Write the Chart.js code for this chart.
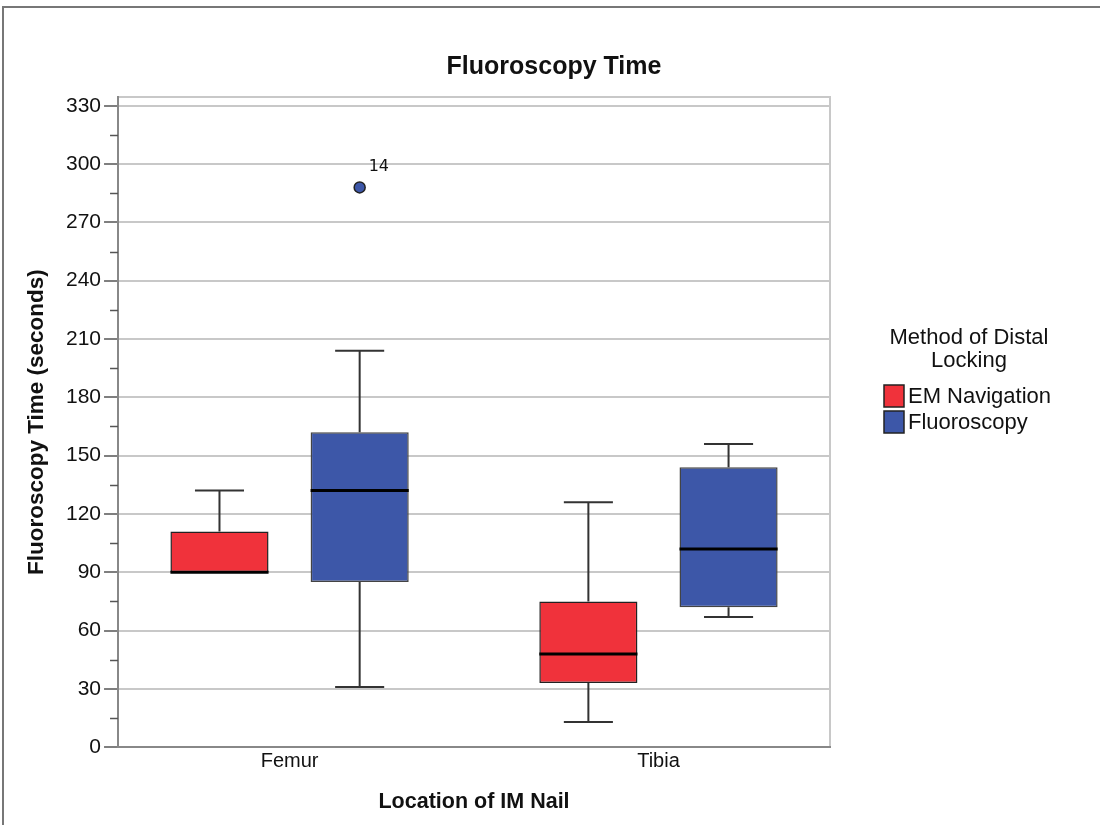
<!DOCTYPE html>
<html>
<head>
<meta charset="utf-8">
<script src="https://cdn.jsdelivr.net/npm/chart.js@4.4.1/dist/chart.umd.min.js"></script>
<style>
  body { margin: 0; background: #fff; }
  #wrap { width: 1100px; height: 825px; }
</style>
</head>
<body>
<div id="wrap"><canvas id="chart" width="1100" height="825"></canvas></div>
<script>
'use strict';

// categories and box statistics (seconds)
const categories = ['Femur', 'Tibia'];

const emMin = [90, 13];
const emQ1 = [90, 33];
const emMedian = [90, 48];
const emQ3 = [111, 75];
const emMax = [132, 126];

const fluoroMin = [31, 67];
const fluoroQ1 = [85, 72];
const fluoroMedian = [132, 102];
const fluoroQ3 = [162, 144];
const fluoroMax = [204, 156];

// outliers: value and case number, per category
const fluoroOutliers = [[288], []];
const fluoroOutlierIds = [['14'], []];
const emOutliers = [[], []];
const emOutlierIds = [[], []];

const yMajorTicks = [0, 30, 60, 90, 120, 150, 180, 210, 240, 270, 300, 330];
const yMinorTicks = [15, 45, 75, 105, 135, 165, 195, 225, 255, 285, 315];

const legendTitle = ['Method of Distal', 'Locking'];

const RED = '#f0323b';
const BLUE = '#3d57a8';
const FONT = "'Liberation Sans', Arial, sans-serif";

function boxData(q1, q3) {
    return categories.map((c, i) => ({ x: i + 1, y: [q1[i], q3[i]] }));
}

const stats = [
    { min: emMin, median: emMedian, max: emMax, out: emOutliers, ids: emOutlierIds },
    { min: fluoroMin, median: fluoroMedian, max: fluoroMax, out: fluoroOutliers, ids: fluoroOutlierIds }
];

// frame around the whole figure and the top/right edges of the plot
const framePlugin = {
    id: 'frame',
    beforeDraw(chart) {
        const ctx = chart.ctx;
        const a = chart.chartArea;
        ctx.save();
        ctx.strokeStyle = '#777';
        ctx.lineWidth = 2;
        ctx.beginPath();
        ctx.moveTo(chart.width, 7);
        ctx.lineTo(3, 7);
        ctx.lineTo(3, chart.height);
        ctx.stroke();
        ctx.strokeStyle = '#c8c8c8';
        ctx.lineWidth = 2;
        ctx.beginPath();
        ctx.moveTo(a.left, a.top);
        ctx.lineTo(a.right, a.top);
        ctx.lineTo(a.right, a.bottom);
        ctx.stroke();
        ctx.restore();
    },
    afterDraw(chart) {
        // short minor ticks on the y axis
        const ctx = chart.ctx;
        const y = chart.scales.y;
        ctx.save();
        ctx.strokeStyle = '#555';
        ctx.lineWidth = 1.5;
        yMinorTicks.forEach(v => {
            const py = Math.round(y.getPixelForValue(v)) + 0.5;
            ctx.beginPath();
            ctx.moveTo(y.right - 8, py);
            ctx.lineTo(y.right, py);
            ctx.stroke();
        });
        ctx.restore();
    }
};

// whiskers, medians and outliers on top of the bar boxes
const boxPlugin = {
    id: 'boxes',
    afterDatasetsDraw(chart) {
        const ctx = chart.ctx;
        const y = chart.scales.y;
        ctx.save();
        stats.forEach((s, di) => {
            const meta = chart.getDatasetMeta(di);
            const color = chart.data.datasets[di].backgroundColor;
            meta.data.forEach((bar, i) => {
                const x = bar.x;
                const half = bar.width / 2;
                const ds = chart.data.datasets[di].data[i].y;
                const pTop = y.getPixelForValue(ds[1]);
                const pBot = y.getPixelForValue(ds[0]);
                const pMax = y.getPixelForValue(s.max[i]);
                const pMin = y.getPixelForValue(s.min[i]);
                ctx.strokeStyle = '#333';
                ctx.lineWidth = 2;
                if (s.max[i] > ds[1]) {
                    ctx.beginPath();
                    ctx.moveTo(x, pTop);
                    ctx.lineTo(x, pMax);
                    ctx.moveTo(x - half / 2, pMax);
                    ctx.lineTo(x + half / 2, pMax);
                    ctx.stroke();
                }
                if (s.min[i] < ds[0]) {
                    ctx.beginPath();
                    ctx.moveTo(x, pBot);
                    ctx.lineTo(x, pMin);
                    ctx.moveTo(x - half / 2, pMin);
                    ctx.lineTo(x + half / 2, pMin);
                    ctx.stroke();
                }
                ctx.strokeStyle = '#000';
                ctx.lineWidth = 3;
                const pMed = y.getPixelForValue(s.median[i]);
                ctx.beginPath();
                ctx.moveTo(x - half, pMed);
                ctx.lineTo(x + half, pMed);
                ctx.stroke();

                s.out[i].forEach((v, k) => {
                    const py = y.getPixelForValue(v);
                    ctx.beginPath();
                    ctx.arc(x, py, 5.5, 0, Math.PI * 2);
                    ctx.fillStyle = color;
                    ctx.fill();
                    ctx.lineWidth = 1.5;
                    ctx.strokeStyle = '#222';
                    ctx.stroke();
                    ctx.fillStyle = '#111';
                    ctx.font = "16px 'DejaVu Sans', sans-serif";
                    ctx.textAlign = 'left';
                    ctx.textBaseline = 'middle';
                    ctx.fillText(s.ids[i][k], x + 9, py - 21);
                });
            });
        });
        ctx.restore();
    }
};

// legend on the right with a two line title
const legendPlugin = {
    id: 'sideLegend',
    afterDraw(chart) {
        const ctx = chart.ctx;
        const a = chart.chartArea;
        const left = a.right + 54;
        ctx.save();
        ctx.fillStyle = '#111';
        ctx.font = '22px ' + FONT;
        ctx.textAlign = 'center';
        ctx.textBaseline = 'middle';
        legendTitle.forEach((t, i) => ctx.fillText(t, left + 85, 338 + i * 23));
        ctx.textAlign = 'left';
        chart.data.datasets.forEach((ds, i) => {
            const top = 385 + i * 26;
            ctx.fillStyle = ds.backgroundColor;
            ctx.fillRect(left, top, 20, 22);
            ctx.strokeStyle = '#222';
            ctx.lineWidth = 1.5;
            ctx.strokeRect(left, top, 20, 22);
            ctx.fillStyle = '#111';
            ctx.fillText(ds.label, left + 24, top + 12);
        });
        ctx.restore();
    }
};

new Chart(document.getElementById('chart'), {
    type: 'bar',
    data: {
        datasets: [
            {
                label: 'EM Navigation',
                data: boxData(emQ1, emQ3),
                backgroundColor: RED,
                borderColor: '#222',
                borderWidth: 1.5,
                borderSkipped: false,
                yAxisID: 'y'
            },
            {
                label: 'Fluoroscopy',
                data: boxData(fluoroQ1, fluoroQ3),
                backgroundColor: BLUE,
                borderColor: '#444',
                borderWidth: 1.5,
                borderSkipped: false,
                yAxisID: 'y'
            }
        ]
    },
    options: {
        responsive: false,
        animation: false,
        categoryPercentage: 0.76,
        barPercentage: 0.70,
        layout: { padding: { left: 20, right: 12, top: 0, bottom: 6 } },
        plugins: {
            legend: { display: false },
            tooltip: { enabled: false },
            title: {
                display: true,
                text: 'Fluoroscopy Time',
                color: '#111',
                font: { family: FONT, size: 25, weight: 'bold' },
                padding: { top: 52, bottom: 15 }
            }
        },
        scales: {
            x: {
                type: 'linear',
                offset: false,
                min: 0.535,
                max: 2.465,
                afterBuildTicks(scale) {
                    scale.ticks = categories.map((c, i) => ({ value: i + 1 }));
                },
                ticks: {
                    padding: 2,
                    color: '#111',
                    font: { family: FONT, size: 20 },
                    callback: (v) => categories[v - 1] || ''
                },
                grid: { display: false, drawTicks: false },
                border: { color: '#888', width: 2 },
                title: {
                    display: true,
                    text: 'Location of IM Nail',
                    color: '#111',
                    font: { family: FONT, size: 21.5, weight: 'bold' },
                    padding: { top: 14, bottom: 4 }
                }
            },
            y: {
                min: 0,
                max: 334.5,
                afterBuildTicks(scale) {
                    scale.ticks = yMajorTicks.map(v => ({ value: v }));
                },
                ticks: {
                    padding: 3,
                    color: '#111',
                    font: { family: FONT, size: 21 }
                },
                grid: {
                    color: '#c8c8c8',
                    lineWidth: 2,
                    tickLength: 14,
                    tickColor: '#555',
                    tickWidth: 1.5
                },
                border: { color: '#888', width: 2 },
                title: {
                    display: true,
                    text: 'Fluoroscopy Time (seconds)',
                    color: '#111',
                    font: { family: FONT, size: 22.5, weight: 'bold' },
                    padding: { top: 3.5, bottom: 12.5 }
                }
            },
            // empty axis that keeps room for the legend on the right
            legendSpace: {
                type: 'linear',
                position: 'right',
                min: 0,
                max: 1,
                ticks: { display: false },
                grid: { display: false, drawTicks: false },
                border: { display: false },
                afterFit(scale) {
                    scale.width = 258;
                }
            }
        }
    },
    plugins: [framePlugin, boxPlugin, legendPlugin]
});
</script>
</body>
</html>
